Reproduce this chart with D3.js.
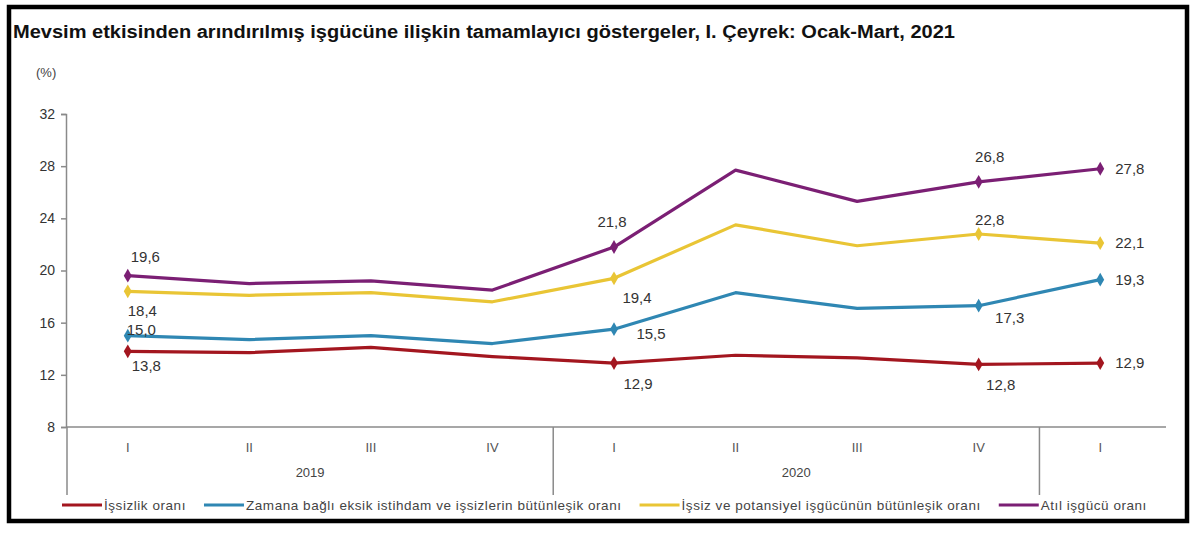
<!DOCTYPE html>
<html>
<head>
<meta charset="utf-8">
<script src="https://cdn.jsdelivr.net/npm/d3@7"></script>
<style>
  body { margin: 0; background: #fff; }
  svg { display: block; font-family: "Liberation Sans", Arial, sans-serif; }
</style>
</head>
<body>
<svg id="chart" width="1200" height="538"></svg>
<script>
// quarters on the x axis, grouped by year
var quarters = ["I", "II", "III", "IV", "I", "II", "III", "IV", "I"];
var yearOf = [0, 0, 0, 0, 1, 1, 1, 1, 2];
var years = ["2019", "2020", ""];

// series values (%)
var issizlik   = [13.8, 13.7, 14.1, 13.4, 12.9, 13.5, 13.3, 12.8, 12.9];
var zamana     = [15.0, 14.7, 15.0, 14.4, 15.5, 18.3, 17.1, 17.3, 19.3];
var potansiyel = [18.4, 18.1, 18.3, 17.6, 19.4, 23.5, 21.9, 22.8, 22.1];
var atil       = [19.6, 19.0, 19.2, 18.5, 21.8, 27.7, 25.3, 26.8, 27.8];

var yTicks = [8, 12, 16, 20, 24, 28, 32];
var labeled = [0, 4, 7, 8];

var seriesNames = [
  "İşsizlik oranı",
  "Zamana bağlı eksik istihdam ve işsizlerin bütünleşik oranı",
  "İşsiz ve potansiyel işgücünün bütünleşik oranı",
  "Atıl işgücü oranı"
];
var colors = ["#a3161f", "#2f87b3", "#e9c535", "#7b1f74"];
var series = [issizlik, zamana, potansiyel, atil];

// where each value label sits next to its point: [dx, dy, anchor] per labeled index
var labelPos = [
  { 0: [4, 14, "start"],  4: [24, 21, "middle"], 7: [22, 20, "middle"], 8: [15, 0, "start"] },
  { 0: [-1, -6, "start"], 4: [37, 5, "middle"],  7: [31, 12, "middle"], 8: [15, 0, "start"] },
  { 0: [0, 19, "start"],  4: [23, 19, "middle"], 7: [11, -14, "middle"], 8: [15, 0, "start"] },
  { 0: [3, -19, "start"], 4: [-2, -25, "middle"], 7: [11, -25, "middle"], 8: [15, 0, "start"] }
];

var svg = d3.select("#chart");

// outer frame
svg.append("rect")
  .attr("x", 9).attr("y", 7).attr("width", 1178).attr("height", 514)
  .attr("fill", "#fff").attr("stroke", "#000").attr("stroke-width", 4.5);

svg.append("text")
  .attr("x", 13).attr("y", 38)
  .attr("font-size", 18).attr("font-weight", "bold").attr("fill", "#111")
  .attr("textLength", 942).attr("lengthAdjust", "spacingAndGlyphs")
  .text("Mevsim etkisinden arındırılmış işgücüne ilişkin tamamlayıcı göstergeler, I. Çeyrek: Ocak-Mart, 2021");

svg.append("text")
  .attr("x", 36).attr("y", 77)
  .attr("font-size", 13).attr("fill", "#444")
  .text("(%)");

var x = d3.scalePoint().domain(d3.range(quarters.length)).range([67, 1161]).padding(0.5);
var y = d3.scaleLinear().domain([8, 32]).range([427, 114]);

// y axis
var yAxis = svg.append("g")
  .attr("transform", "translate(66,0)")
  .call(d3.axisLeft(y).tickValues(yTicks).tickSize(5).tickPadding(6));
yAxis.select(".domain").attr("stroke", "#8a8a8a").attr("stroke-width", 1.5);
yAxis.selectAll(".tick line").attr("stroke", "#8a8a8a").attr("stroke-width", 1.5);
yAxis.selectAll(".tick text").attr("font-size", 14).attr("fill", "#333")
  .attr("font-family", "Liberation Sans, Arial, sans-serif");

// x axis line and group separators
svg.append("line")
  .attr("x1", 66).attr("x2", 1166).attr("y1", 427).attr("y2", 427)
  .attr("stroke", "#8a8a8a").attr("stroke-width", 1.5);

var step = x.step();
var seps = [0, 4, 8];
svg.selectAll(".sep").data(seps).enter().append("line")
  .attr("x1", function(d) { return x(d) - step / 2; })
  .attr("x2", function(d) { return x(d) - step / 2; })
  .attr("y1", 427).attr("y2", 495)
  .attr("stroke", "#8a8a8a").attr("stroke-width", 1.5);

svg.selectAll(".qlab").data(quarters).enter().append("text")
  .attr("x", function(d, i) { return x(i); })
  .attr("y", 452)
  .attr("text-anchor", "middle")
  .attr("font-size", 13).attr("fill", "#555")
  .text(function(d) { return d; });

svg.selectAll(".ylab").data(years).enter().append("text")
  .attr("x", function(d, j) {
    var idx = d3.range(quarters.length).filter(function(i) { return yearOf[i] == j; });
    return (x(idx[0]) + x(idx[idx.length - 1])) / 2;
  })
  .attr("y", 477)
  .attr("text-anchor", "middle")
  .attr("font-size", 13).attr("fill", "#444")
  .text(function(d) { return d; });

// lines
var line = d3.line()
  .x(function(d, i) { return x(i); })
  .y(function(d) { return y(d); });

series.forEach(function(vals, s) {
  svg.append("path")
    .datum(vals)
    .attr("d", line)
    .attr("fill", "none")
    .attr("stroke", colors[s])
    .attr("stroke-width", 3.2)
    .attr("stroke-linejoin", "round");

  svg.selectAll(".mk" + s).data(labeled).enter().append("path")
    .attr("d", d3.symbol().type(d3.symbolDiamond).size(55))
    .attr("transform", function(i) { return "translate(" + x(i) + "," + y(vals[i]) + ")"; })
    .attr("fill", colors[s]);

  svg.selectAll(".lb" + s).data(labeled).enter().append("text")
    .attr("x", function(i) { return x(i) + labelPos[s][i][0]; })
    .attr("y", function(i) { return y(vals[i]) + labelPos[s][i][1]; })
    .attr("dy", "0.35em")
    .attr("text-anchor", function(i) { return labelPos[s][i][2]; })
    .attr("font-size", 15).attr("fill", "#333")
    .text(function(i) { return d3.format(".1f")(vals[i]).replace(".", ","); });
});

// legend
var lx = 62;
seriesNames.forEach(function(name, s) {
  svg.append("line")
    .attr("x1", lx).attr("x2", lx + 40).attr("y1", 505).attr("y2", 505)
    .attr("stroke", colors[s]).attr("stroke-width", 3);
  var t = svg.append("text")
    .attr("x", lx + 42).attr("y", 505).attr("dy", "0.35em")
    .attr("font-size", 13.5).attr("fill", "#444")
    .attr("letter-spacing", 0.55)
    .text(name);
  lx += 42 + t.node().getComputedTextLength() + 18;
});
</script>
</body>
</html>
